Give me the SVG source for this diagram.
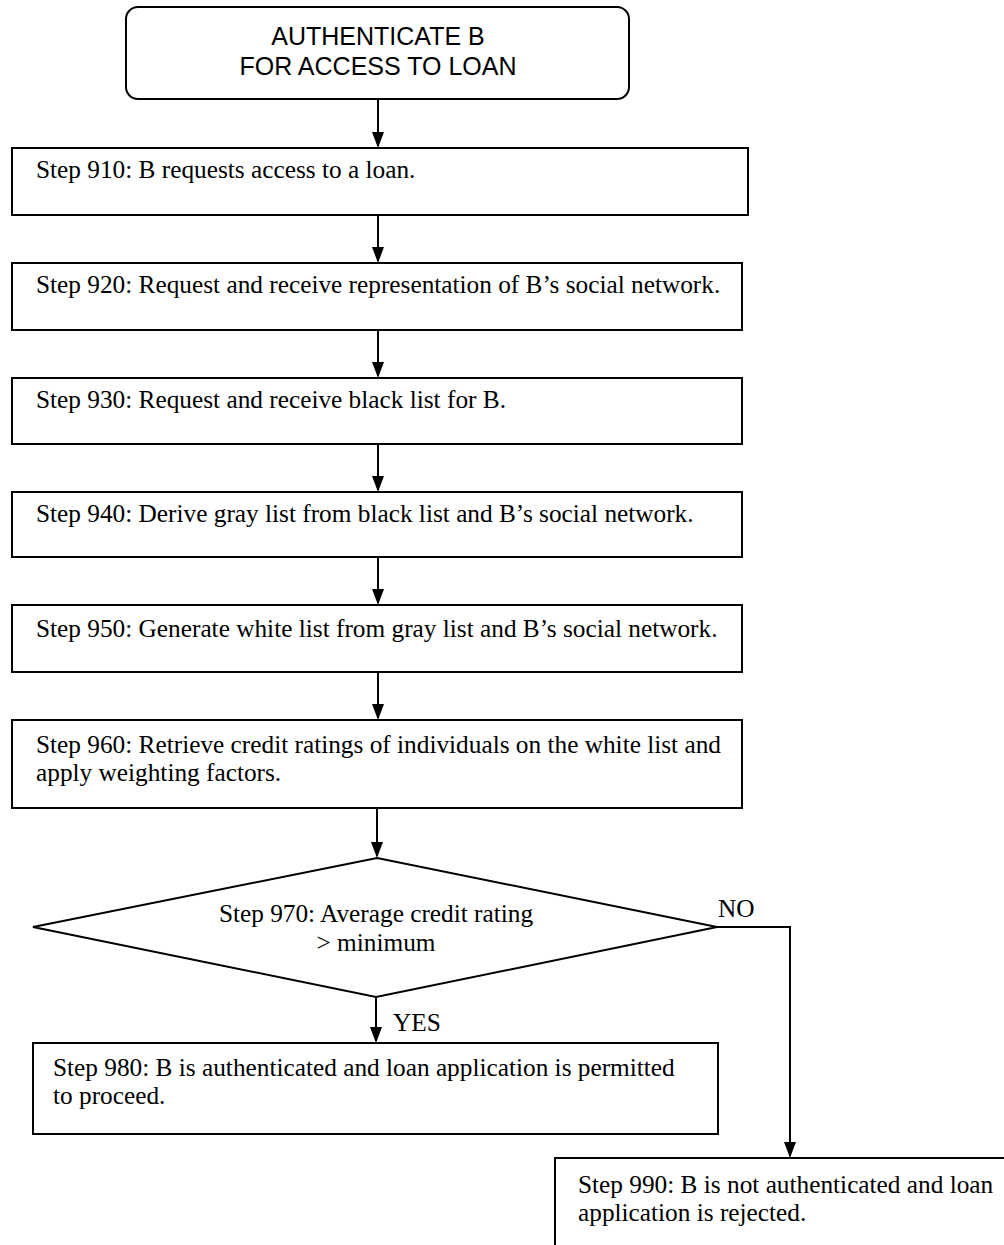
<svg xmlns="http://www.w3.org/2000/svg" width="1004" height="1245" viewBox="0 0 1004 1245">
<style>
.box{fill:#fff;stroke:#000;stroke-width:2}
.t{font-family:"Liberation Serif","Times New Roman",serif;font-size:25.3px;fill:#000}
.h{font-family:"Liberation Sans",Arial,sans-serif;font-size:25px;fill:#000;text-anchor:middle}
.c{fill:none;stroke:#000;stroke-width:2}
</style>
<rect width="1004" height="1245" fill="#fff"/>
<g id="connectors">
<path class="c" d="M378,99 V146"/>
<path class="c" d="M378,215 V261"/>
<path class="c" d="M378,330 V376"/>
<path class="c" d="M378,444 V490"/>
<path class="c" d="M378,557 V603"/>
<path class="c" d="M378,672 V718"/>
<path class="c" d="M377,808 V856"/>
<path class="c" d="M376,997 V1041"/>
<path class="c" d="M717,927 H790 V1156"/>
<path d="M372,132 L384,132 L378,148 Z"/>
<path d="M372,247 L384,247 L378,263 Z"/>
<path d="M372,362 L384,362 L378,378 Z"/>
<path d="M372,476 L384,476 L378,492 Z"/>
<path d="M372,589 L384,589 L378,605 Z"/>
<path d="M372,704 L384,704 L378,720 Z"/>
<path d="M371,842 L383,842 L377,858 Z"/>
<path d="M370,1027 L382,1027 L376,1043 Z"/>
<path d="M784,1142 L796,1142 L790,1158 Z"/>
<text class="t" x="393" y="1031">YES</text>
<text class="t" x="718" y="917">NO</text>
</g>
<g id="start">
<rect class="box" x="126" y="7" width="503" height="92" rx="12"/>
<text class="h" x="378" y="45">AUTHENTICATE B</text>
<text class="h" x="378" y="75">FOR ACCESS TO LOAN</text>
</g>
<g id="step910">
<rect class="box" x="12" y="148" width="736" height="67"/>
<text class="t" x="36" y="178">Step 910: B requests access to a loan.</text>
</g>
<g id="step920">
<rect class="box" x="12" y="263" width="730" height="67"/>
<text class="t" x="36" y="293">Step 920: Request and receive representation of B’s social network.</text>
</g>
<g id="step930">
<rect class="box" x="12" y="378" width="730" height="66"/>
<text class="t" x="36" y="408">Step 930: Request and receive black list for B.</text>
</g>
<g id="step940">
<rect class="box" x="12" y="492" width="730" height="65"/>
<text class="t" x="36" y="522">Step 940: Derive gray list from black list and B’s social network.</text>
</g>
<g id="step950">
<rect class="box" x="12" y="605" width="730" height="67"/>
<text class="t" x="36" y="637">Step 950: Generate white list from gray list and B’s social network.</text>
</g>
<g id="step960">
<rect class="box" x="12" y="720" width="730" height="88"/>
<text class="t" x="36" y="753">Step 960: Retrieve credit ratings of individuals on the white list and</text>
<text class="t" x="36" y="781">apply weighting factors.</text>
</g>
<g id="step970">
<path class="box" d="M377,858 L717,927 L376,997 L33,927 Z"/>
<text class="t" x="376" y="922" text-anchor="middle">Step 970: Average credit rating</text>
<text class="t" x="376" y="951" text-anchor="middle">&gt; minimum</text>
</g>
<g id="step980">
<rect class="box" x="33" y="1043" width="685" height="91"/>
<text class="t" x="53" y="1076">Step 980: B is authenticated and loan application is permitted</text>
<text class="t" x="53" y="1104">to proceed.</text>
</g>
<g id="step990">
<rect class="box" x="555" y="1158" width="460" height="100"/>
<text class="t" x="578" y="1193">Step 990: B is not authenticated and loan</text>
<text class="t" x="578" y="1221">application is rejected.</text>
</g>
</svg>
